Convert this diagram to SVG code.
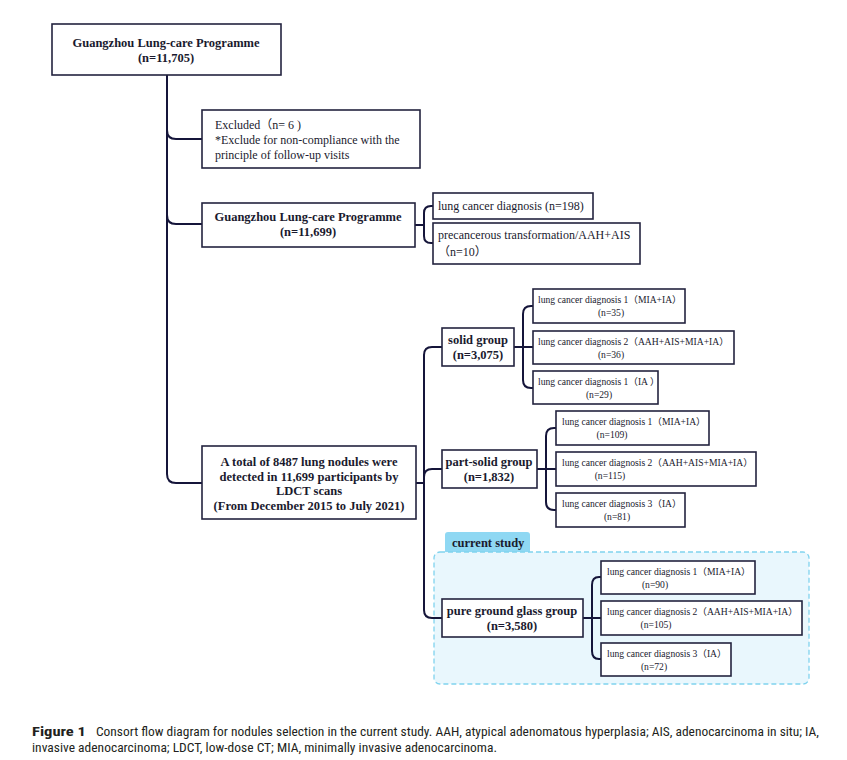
<svg xmlns="http://www.w3.org/2000/svg" width="847" height="760" viewBox="0 0 847 760">
<style>
.box{fill:#ffffff;stroke:#23233f;stroke-width:1.6}
.ln{fill:none;stroke:#15153a;stroke-width:2}
.t{font-family:"Liberation Serif","Noto Sans CJK SC",serif;fill:#1a1a2e}
.b{font-weight:bold;font-size:12.5px}
.r{font-size:12px}
.s{font-size:9.6px}
.c{font-family:"Liberation Sans Narrow","Roboto Condensed","Liberation Sans",sans-serif;font-size:12.5px;fill:#231f20}
</style>
<rect width="847" height="760" fill="#ffffff"/>
<g id="current-study-area">
<rect x="445" y="532" width="85" height="22" rx="3" fill="#8fd8f3"/>
<rect x="434" y="552" width="375" height="132" rx="6" fill="#e9f7fd" stroke="#80d3ee" stroke-width="1.3" stroke-dasharray="5,3"/>
<text class="t" x="452" y="547" font-weight="bold" font-size="12.5px">current study</text>
</g>
<g id="connectors">
<path class="ln" d="M167,75 V474 Q167,483 176,483 H202"/>
<path class="ln" d="M167,130 Q167,139 176,139 H202"/>
<path class="ln" d="M167,215 Q167,224 176,224 H202"/>
<path class="ln" d="M415,225 H424"/>
<path class="ln" d="M433,206 H431 Q424,206 424,213 V236 Q424,243 431,243 H433"/>
<path class="ln" d="M416,483 H424"/>
<path class="ln" d="M442,347 H432 Q424,347 424,355 V610 Q424,618 432,618 H442"/>
<path class="ln" d="M424,477 Q424,469 432,469 H442"/>
<path class="ln" d="M514,347 H533"/>
<path class="ln" d="M533,306 H531 Q523,306 523,314 V380 Q523,388 531,388 H533"/>
<path class="ln" d="M537,469 H556"/>
<path class="ln" d="M556,428 H554 Q546,428 546,436 V502 Q546,510 554,510 H556"/>
<path class="ln" d="M583,618 H601"/>
<path class="ln" d="M601,577 H599 Q592,577 592,585 V651 Q592,659 599,659 H601"/>
</g>
<g id="n1">
<rect class="box" x="52" y="24" width="229" height="51"/>
<text class="t b" x="166" y="47" text-anchor="middle">Guangzhou Lung-care Programme</text>
<text class="t b" x="166" y="62" text-anchor="middle">(n=11,705)</text>
</g>
<g id="n-excluded">
<rect class="box" x="202" y="110" width="218" height="58"/>
<text class="t r" x="215" y="129">Excluded（n= 6 )</text>
<text class="t r" x="215" y="144">*Exclude for non-compliance with the</text>
<text class="t r" x="215" y="159">principle of follow-up visits</text>
</g>
<g id="n2">
<rect class="box" x="202" y="203" width="213" height="44"/>
<text class="t b" x="308" y="221" text-anchor="middle">Guangzhou Lung-care Programme</text>
<text class="t b" x="308" y="236" text-anchor="middle">(n=11,699)</text>
</g>
<g id="n-lungcancer">
<rect class="box" x="433" y="193" width="160" height="26"/>
<text class="t r" x="438" y="210">lung cancer diagnosis (n=198)</text>
</g>
<g id="n-precancer">
<rect class="box" x="433" y="223" width="207" height="41"/>
<text class="t r" x="438" y="239">precancerous transformation/AAH+AIS</text>
<text class="t r" x="438" y="256">（n=10）</text>
</g>
<g id="n-total">
<rect class="box" x="202" y="446" width="214" height="73"/>
<text class="t b" x="309" y="466" text-anchor="middle">A total of 8487 lung nodules were</text>
<text class="t b" x="309" y="481" text-anchor="middle">detected in 11,699 participants by</text>
<text class="t b" x="309" y="495" text-anchor="middle">LDCT scans</text>
<text class="t b" x="309" y="510" text-anchor="middle">(From December 2015 to July 2021)</text>
</g>
<g id="n-solid">
<rect class="box" x="442" y="328" width="72" height="38"/>
<text class="t b" x="478" y="344" text-anchor="middle">solid group</text>
<text class="t b" x="478" y="359" text-anchor="middle">(n=3,075)</text>
</g>
<g id="n-solid-1">
<rect class="box" x="533" y="289" width="152" height="34"/>
<text class="t s" x="538" y="303">lung cancer diagnosis 1（MIA+IA）</text>
<text class="t s" x="611" y="316" text-anchor="middle">(n=35)</text>
</g>
<g id="n-solid-2">
<rect class="box" x="533" y="331" width="201" height="33"/>
<text class="t s" x="538" y="345">lung cancer diagnosis 2（AAH+AIS+MIA+IA）</text>
<text class="t s" x="611" y="358" text-anchor="middle">(n=36)</text>
</g>
<g id="n-solid-3">
<rect class="box" x="533" y="371" width="125" height="33"/>
<text class="t s" x="538" y="385">lung cancer diagnosis 1（IA ）</text>
<text class="t s" x="599" y="398" text-anchor="middle">(n=29)</text>
</g>
<g id="n-partsolid">
<rect class="box" x="442" y="450" width="95" height="38"/>
<text class="t b" x="489" y="466" text-anchor="middle">part-solid group</text>
<text class="t b" x="489" y="481" text-anchor="middle">(n=1,832)</text>
</g>
<g id="n-partsolid-1">
<rect class="box" x="556" y="411" width="153" height="34"/>
<text class="t s" x="562" y="425">lung cancer diagnosis 1（MIA+IA）</text>
<text class="t s" x="612" y="438" text-anchor="middle">(n=109)</text>
</g>
<g id="n-partsolid-2">
<rect class="box" x="556" y="452" width="200" height="34"/>
<text class="t s" x="562" y="466">lung cancer diagnosis 2（AAH+AIS+MIA+IA）</text>
<text class="t s" x="610" y="479" text-anchor="middle">(n=115)</text>
</g>
<g id="n-partsolid-3">
<rect class="box" x="556" y="493" width="129" height="34"/>
<text class="t s" x="562" y="507">lung cancer diagnosis 3（IA）</text>
<text class="t s" x="617" y="520" text-anchor="middle">(n=81)</text>
</g>
<g id="n-pgg">
<rect class="box" x="442" y="599" width="141" height="38"/>
<text class="t b" x="512" y="615" text-anchor="middle">pure ground glass group</text>
<text class="t b" x="512" y="630" text-anchor="middle">(n=3,580)</text>
</g>
<g id="n-pgg-1">
<rect class="box" x="601" y="561" width="154" height="33"/>
<text class="t s" x="607" y="575">lung cancer diagnosis 1（MIA+IA）</text>
<text class="t s" x="655" y="588" text-anchor="middle">(n=90)</text>
</g>
<g id="n-pgg-2">
<rect class="box" x="601" y="601" width="201" height="34"/>
<text class="t s" x="607" y="615">lung cancer diagnosis 2（AAH+AIS+MIA+IA）</text>
<text class="t s" x="656" y="628" text-anchor="middle">(n=105)</text>
</g>
<g id="n-pgg-3">
<rect class="box" x="601" y="643" width="130" height="33"/>
<text class="t s" x="607" y="657">lung cancer diagnosis 3（IA）</text>
<text class="t s" x="654" y="670" text-anchor="middle">(n=72)</text>
</g>
<g id="caption">
<text class="c" x="32" y="736" font-weight="bold" textLength="54" lengthAdjust="spacingAndGlyphs">Figure 1</text>
<text class="c" x="96" y="736" textLength="723" lengthAdjust="spacingAndGlyphs">Consort flow diagram for nodules selection in the current study. AAH, atypical adenomatous hyperplasia; AIS, adenocarcinoma in situ; IA,</text>
<text class="c" x="32" y="752" textLength="465" lengthAdjust="spacingAndGlyphs">invasive adenocarcinoma; LDCT, low-dose CT; MIA, minimally invasive adenocarcinoma.</text>
</g>
</svg>
